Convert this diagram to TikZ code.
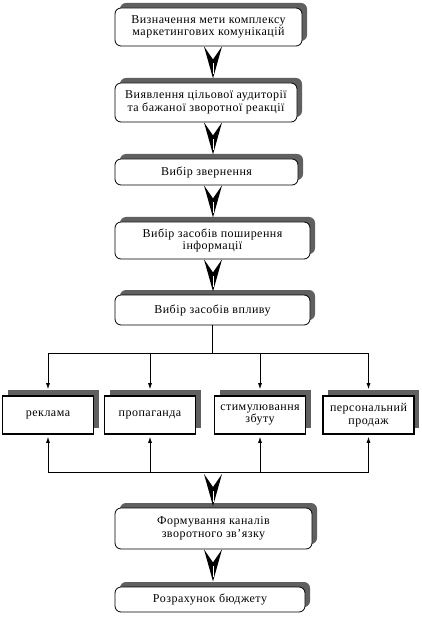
\documentclass[tikz,border=0pt]{standalone}
\usepackage{fontspec}
\newfontfamily\boxfont[LetterSpace=4]{Liberation Serif}
\usetikzlibrary{shadows, arrows.meta, positioning}
\definecolor{shadowgray}{RGB}{96,96,96}

\begin{document}
\begin{tikzpicture}[x=1pt, y=-1pt,
    stage/.style={rectangle, rounded corners=6pt, draw, line width=0.8pt, fill=white, align=center, font=\boxfont\fontsize{12}{12.5}\selectfont, general shadow={fill=shadowgray, shadow xshift=5pt, shadow yshift=5pt}},
    tool/.style={rectangle, draw, line width=1.6pt, fill=white, minimum width=91pt, minimum height=38pt, align=center, font=\boxfont\fontsize{12}{12.5}\selectfont, general shadow={fill=shadowgray, shadow xshift=5pt, shadow yshift=6pt}},
    link/.style={line width=0.8pt},
    chev/.pic={\fill (-9,0) -- (0,13) -- (9,0) -- (0,32) -- cycle; \draw[white, line width=0.7pt] (0,17) -- (0,28);}
]
\useasboundingbox (0,0) rectangle (421,617);
\coordinate (axis) at (213,0);

\node[stage, minimum width=187pt, minimum height=38pt] (goal) at (208.5,27) {Визначення мети комплексу\\маркетингових комунікацій};
\node[stage, minimum width=182pt, minimum height=39pt] (audience) at (206,102.5) {Виявлення цільової аудиторії\\та бажаної зворотної реакції};
\node[stage, minimum width=183pt, minimum height=26pt] (appeal) at (206.5,172) {Вибір звернення};
\node[stage, minimum width=195pt, minimum height=37pt] (media) at (212.5,240.5) {Вибір засобів поширення\\інформації};
\node[stage, minimum width=195pt, minimum height=30pt] (impact) at (212.5,310) {Вибір засобів впливу};

\node[tool] (ad) at (48,415) {реклама};
\node[tool] (promo) at (150,415) {пропаганда};
\node[tool] (sales) at (260,415) {стимулювання\\збуту};
\node[tool] (personal) at (368.5,415) {персональний\\продаж};

\node[stage, minimum width=197pt, minimum height=41pt] (feedback) at (213.5,528.5) {Формування каналів\\зворотного зв’язку};
\node[stage, minimum width=190pt, minimum height=25pt] (budget) at (210,599.5) {Розрахунок бюджету};

\pic at (goal.south -| axis) {chev};
\pic at (audience.south -| axis) {chev};
\pic at (appeal.south -| axis) {chev};
\pic at (media.south -| axis) {chev};
\pic at (feedback.south -| axis) {chev};

\coordinate[below=28pt of impact] (fork);
\coordinate (join) at (213,472);
\pic at ([yshift=-2pt]join) {chev};

\draw[link] (impact) -- (fork);
\foreach \t in {ad, promo, sales, personal}
    \draw[link, -{Latex[length=6pt, width=4pt]}, shorten >=6pt] (fork) -| (\t.north);
\foreach \t in {ad, promo, sales, personal}
    \draw[link, -{Latex[length=6pt, width=4pt]}, shorten >=2pt] (join) -| (\t.south);
\end{tikzpicture}
\end{document}
